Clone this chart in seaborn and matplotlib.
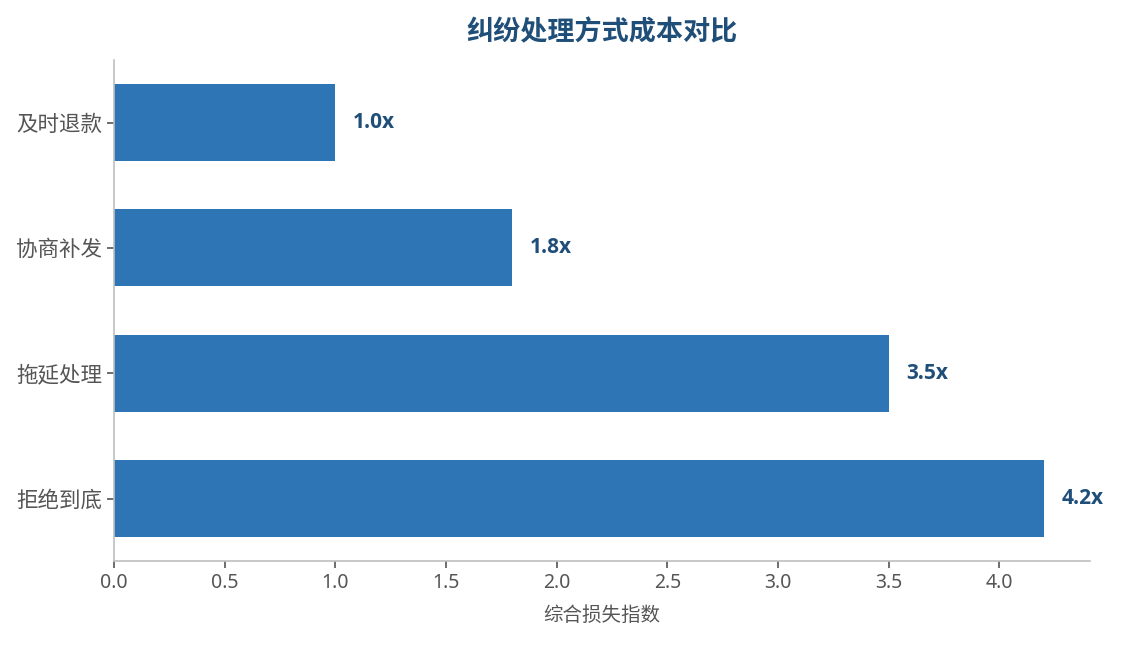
import matplotlib
matplotlib.use("Agg")
import matplotlib.pyplot as plt
import seaborn as sns
import pandas as pd

categories = ["及时退款", "协商补发", "拖延处理", "拒绝到底"]
values = [1.0, 1.8, 3.5, 4.2]
value_labels = ["1.0x", "1.8x", "3.5x", "4.2x"]
title = "纠纷处理方式成本对比"
xlabel = "综合损失指数"

sns.set_theme(style="white")
plt.rcParams["font.family"] = ["Noto Sans", "Noto Sans CJK SC", "DejaVu Sans"]

df = pd.DataFrame({"cat": categories, "val": values})

fig = plt.figure(figsize=(11.22, 6.45), dpi=100)
ax = fig.add_axes([0.1016, 0.130, 0.8699, 0.777])
sns.barplot(data=df, y="cat", x="val", orient="h", color="#2E75B6",
            saturation=1, width=0.615, linewidth=0, ax=ax)

for i, (v, lab) in enumerate(zip(values, value_labels)):
    ax.text(v + 0.08, i, lab, va="center", ha="left", fontsize=15,
            fontweight="bold", color="#1F4E79",
            family=["Open Sans", "DejaVu Sans"])

ax.set_xlim(0, 4.41)
ax.set_ylim(3.5, -0.5)
ax.set_title(title, fontsize=19.5, fontweight="bold", color="#1F4E79", pad=14,
             family=["Noto Sans CJK SC", "DejaVu Sans"])
ax.set_xlabel(xlabel, fontsize=14, color="#555555", labelpad=9)
ax.set_ylabel("")
ax.set_xticks([0, 0.5, 1.0, 1.5, 2.0, 2.5, 3.0, 3.5, 4.0])
ax.set_xticklabels(["0.0", "0.5", "1.0", "1.5", "2.0", "2.5", "3.0", "3.5", "4.0"])
ax.tick_params(axis="x", labelsize=14)
ax.tick_params(axis="y", labelsize=15.5)
ax.tick_params(axis="both", colors="#555555", length=5, width=1.2,
               left=True, bottom=True)
for s in ["top", "right"]:
    ax.spines[s].set_visible(False)
for s in ["left", "bottom"]:
    ax.spines[s].set_color("#BFBFBF")
    ax.spines[s].set_linewidth(1.2)

fig.savefig("out.png", dpi=100)
